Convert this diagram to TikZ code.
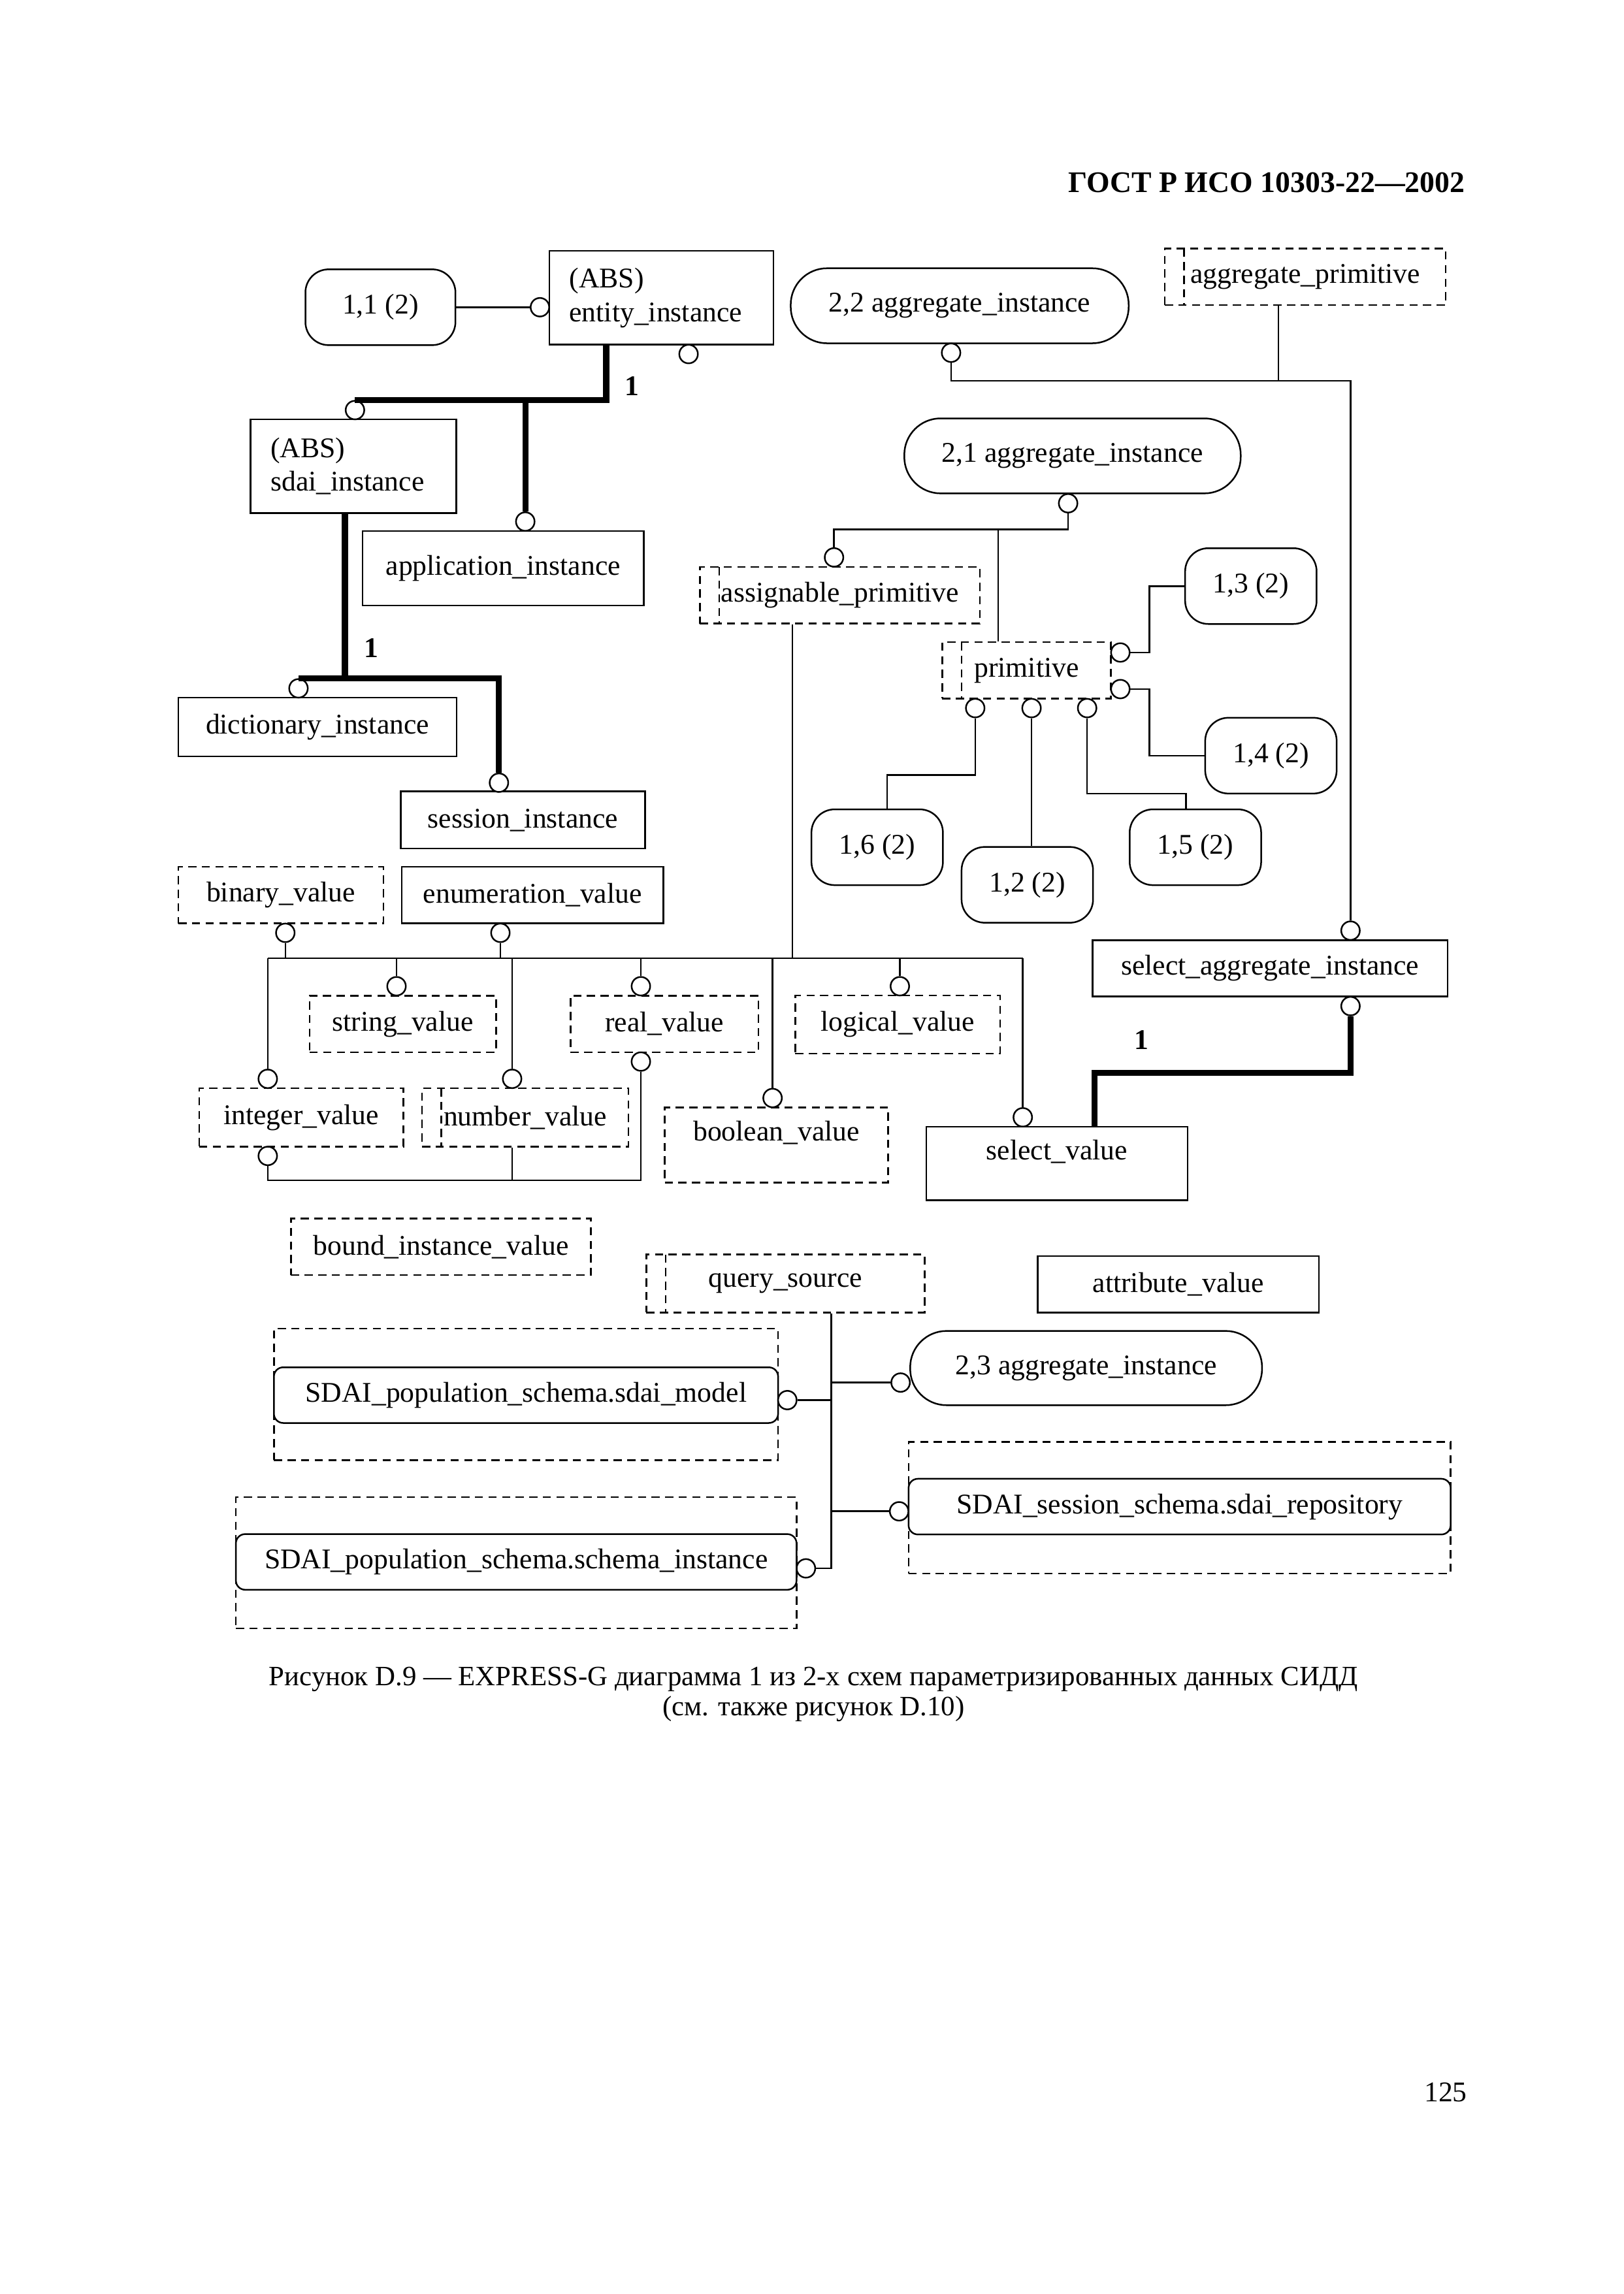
\documentclass[tikz,border=0pt]{standalone}
\usepackage{fontspec}
\setmainfont{Liberation Serif}
\usepackage{tikz}

\tikzset{
  entbox/.style={draw, line width=0.6pt, minimum height=0.73cm, inner sep=2pt},
  typebox/.style={entbox, dash pattern=on 3pt off 2pt},
  selbox/.style={typebox, path picture={\draw[line width=0.6pt, dash pattern=on 3pt off 2pt]
      ([xshift=0.25cm]path picture bounding box.north west) -- ([xshift=0.25cm]path picture bounding box.south west);}},
  absbox/.style={draw, line width=0.6pt, align=left, inner xsep=0.26cm},
  refbox/.style={draw, line width=0.6pt, rounded corners=0.3cm, minimum width=1.70cm, minimum height=0.98cm},
  aggbox/.style={draw, line width=0.6pt, rounded corners=0.47cm, minimum height=0.97cm},
  usebox/.style={draw, fill=white, line width=0.6pt, rounded corners=0.12cm, minimum height=0.72cm},
  usefrm/.style={draw, line width=0.6pt, dash pattern=on 3pt off 2pt, minimum height=1.70cm},
  ring/.style={circle, draw, fill=white, line width=0.6pt, inner sep=0pt, minimum size=0.24cm},
  rel/.style={line width=0.6pt},
  sub/.style={line width=2.2pt},
  card/.style={font=\bfseries}
}

\begin{document}
\fontsize{10.5}{12.4}\selectfont
\begin{tikzpicture}[x=0.018927cm, y=-0.018927cm]
    \useasboundingbox (0, 0) rectangle (1109.5, 1568);

    \node (hdr) at (1001.5, 125) [anchor=east, inner sep=0pt, font=\fontsize{11}{13}\selectfont\bfseries] {ГОСТ Р ИСО 10303-22—2002};

    \node (ref11) at (260, 210) [refbox, minimum width=1.94cm] {1,1 (2)};
    \node (entity) at (452, 203.5) [absbox, text width=2.38cm, minimum height=1.21cm] {(ABS)\\entity\_instance};
    \node (agg22) at (655.9, 209) [aggbox, minimum width=4.37cm] {2,2 aggregate\_instance};
    \node (aggprim) at (892, 189.2) [selbox, minimum width=3.63cm] {aggregate\_primitive};

    \node (sdai) at (241.5, 318.7) [absbox, text width=2.14cm, minimum height=1.21cm] {(ABS)\\sdai\_instance};
    \node (agg21) at (733, 311.6) [aggbox, minimum width=4.35cm] {2,1 aggregate\_instance};
    \node (appl) at (343.9, 388.4) [entbox, minimum width=3.64cm, minimum height=0.96cm] {application\_instance};
    \node (assign) at (574, 406.9) [selbox, minimum width=3.62cm] {assignable\_primitive};
    \node (prim) at (701.6, 458.2) [selbox, minimum width=2.18cm] {primitive};

    \node (ref13) at (854.9, 400.6) [refbox] {1,3 (2)};
    \node (ref14) at (868.6, 516.5) [refbox] {1,4 (2)};
    \node (ref16) at (599.5, 579.1) [refbox] {1,6 (2)};
    \node (ref12) at (702.1, 604.8) [refbox] {1,2 (2)};
    \node (ref15) at (817, 579.1) [refbox] {1,5 (2)};

    \node (dict) at (217, 497) [entbox, minimum width=3.60cm, minimum height=0.76cm] {dictionary\_instance};
    \node (sess) at (357.4, 560.5) [entbox, minimum width=3.16cm, minimum height=0.74cm] {session\_instance};

    \node (binary) at (192, 611.8) [typebox, minimum width=2.65cm] {binary\_value};
    \node (enum) at (364, 611.8) [entbox, minimum width=3.38cm] {enumeration\_value};
    \node (string) at (275.3, 699.9) [typebox, minimum width=2.41cm] {string\_value};
    \node (real) at (454.1, 699.9) [typebox, minimum width=2.43cm] {real\_value};
    \node (logical) at (613.5, 700.3) [typebox, minimum width=2.65cm, minimum height=0.75cm] {logical\_value};
    \node (integer) at (205.9, 763.8) [typebox, minimum width=2.64cm, minimum height=0.755cm] {integer\_value};
    \node (number) at (359, 763.8) [selbox, minimum width=2.67cm, minimum height=0.755cm] {number\_value};
    \node (boolean) at (530.7, 782.7) [typebox, minimum width=2.89cm, minimum height=0.97cm, text depth=0.36cm] {boolean\_value};
    \node (selagg) at (868, 661.9) [entbox, minimum width=4.59cm] {select\_aggregate\_instance};
    \node (selval) at (722.3, 795.3) [entbox, minimum width=3.38cm, minimum height=0.95cm, text depth=0.36cm] {select\_value};

    \node (bound) at (301.4, 852.2) [typebox, minimum width=3.88cm] {bound\_instance\_value};
    \node (query) at (536.8, 877.3) [selbox, minimum width=3.60cm, minimum height=0.75cm] {query\_source};
    \node (attr) at (805.3, 877.8) [entbox, minimum width=3.64cm] {attribute\_value};
    \node (agg23) at (742.3, 935.1) [aggbox, minimum width=4.55cm, minimum height=0.96cm] {2,3 aggregate\_instance};

    \node (modelf) at (359.5, 953.1) [usefrm, minimum width=6.52cm] {};
    \node (model) at (359.5, 953.6) [usebox, minimum width=6.52cm] {SDAI\_population\_schema.sdai\_model};
    \node (repof) at (806.2, 1030.5) [usefrm, minimum width=7.01cm] {};
    \node (repo) at (806.2, 1029.8) [usebox, minimum width=7.01cm] {SDAI\_session\_schema.sdai\_repository};
    \node (schinstf) at (352.8, 1068.2) [usefrm, minimum width=7.25cm] {};
    \node (schinst) at (352.8, 1067.6) [usebox, minimum width=7.25cm] {SDAI\_population\_schema.schema\_instance};

    \node (c1) at (369, 210) [ring] {};
    \node (c2) at (470.6, 242) [ring] {};
    \node (c3) at (242.6, 280.3) [ring] {};
    \node (c4) at (359, 356.5) [ring] {};
    \node (c5) at (204, 470.5) [ring] {};
    \node (c6) at (341, 535) [ring] {};
    \node (cbin) at (195, 637.6) [ring] {};
    \node (cenum) at (342, 637.6) [ring] {};
    \node (cint1) at (183, 737.4) [ring] {};
    \node (cint2) at (183, 790.1) [ring] {};
    \node (cstr) at (271, 674.1) [ring] {};
    \node (cnum) at (350, 737.4) [ring] {};
    \node (creal1) at (438, 674.1) [ring] {};
    \node (creal2) at (438, 725.6) [ring] {};
    \node (cbool) at (528, 750.5) [ring] {};
    \node (clog) at (615, 674.1) [ring] {};
    \node (csv) at (699, 763.7) [ring] {};
    \node (c22) at (650, 241.1) [ring] {};
    \node (csa1) at (923, 636.1) [ring] {};
    \node (csa2) at (923, 687.7) [ring] {};
    \node (c21) at (730, 344) [ring] {};
    \node (cas) at (570, 381) [ring] {};
    \node (cp1) at (765.7, 446) [ring] {};
    \node (cp2) at (765.7, 471) [ring] {};
    \node (cb1) at (666.5, 484) [ring] {};
    \node (cb2) at (705, 484) [ring] {};
    \node (cb3) at (743, 484) [ring] {};
    \node (c23) at (615.5, 945) [ring] {};
    \node (cm) at (538.1, 957) [ring] {};
    \node (cr) at (614.5, 1033) [ring] {};
    \node (cs) at (550.8, 1072) [ring] {};

    \coordinate (j1) at (414.3, 274);
    \coordinate (j2) at (235.7, 464);
    \coordinate (bus1) at (183, 655);
    \coordinate (bus2) at (699, 655);
    \coordinate (jas) at (541.6, 655);
    \coordinate (bus3) at (183, 806.8);
    \coordinate (j3) at (923, 260.2);
    \coordinate (j4) at (873.8, 260.2);
    \coordinate (j5) at (748, 733.5);
    \coordinate (j6) at (682.3, 361.9);
    \coordinate (jq) at (568.2, 1072);

    \draw[rel] (ref11.east) -- (c1.west);
    \draw[sub] (entity.south -| j1) |- (c3.north);
    \draw[sub] (c4.north) -- (c4.north |- c3.north);
    \draw[sub] (sdai.south -| j2) -- (j2);
    \draw[sub] (c5.north) -| (c6.north);

    \draw[rel] (bus1) -- (bus2);
    \draw[rel] (cbin.south) -- (cbin.south |- bus1);
    \draw[rel] (cenum.south) -- (cenum.south |- bus1);
    \draw[rel] (assign.south -| jas) -- (jas);
    \draw[rel] (bus1) -- (cint1.north);
    \draw[rel] (cstr.north) -- (cstr.north |- bus1);
    \draw[rel] (cnum.north) -- (cnum.north |- bus1);
    \draw[rel] (creal1.north) -- (creal1.north |- bus1);
    \draw[rel] (cbool.north) -- (cbool.north |- bus1);
    \draw[rel] (clog.north) -- (clog.north |- bus1);
    \draw[rel] (bus2) -- (csv.north);

    \draw[rel] (cint2.south) -- (bus3) -| (creal2.south);
    \draw[rel] (cnum |- number.south) -- (cnum |- bus3);

    \draw[rel] (c22.south) |- (j3) -- (csa1.north);
    \draw[rel] (aggprim.south -| j4) -- (j4);
    \draw[sub] (csa2.south) |- (j5) -- (j5 |- selval.north);

    \draw[rel] (c21.south) |- (j6) -| (cas.north);
    \draw[rel] (j6) -- (j6 |- prim.north);
    \draw[rel] (cp1.east) -- ++(13, 0) |- (ref13.west);
    \draw[rel] (cp2.east) -- ++(13, 0) |- (ref14.west);
    \draw[rel] (cb1.south) -- ++(0, 38.8) -| ([xshift=0.13cm]ref16.north);
    \draw[rel] (cb2.south) -- (cb2.south |- ref12.north);
    \draw[rel] (cb3.south) -- ++(0, 51.6) -| ([xshift=-0.12cm]ref15.north);

    \draw[rel] (query.south -| jq) -- (jq) -- (cs.east);
    \draw[rel] (c23.west) -- (c23.west -| jq);
    \draw[rel] (cm.east) -- (cm.east -| jq);
    \draw[rel] (cr.west) -- (cr.west -| jq);

    \node (n1) at (432, 264) [card] {1};
    \node (n2) at (254, 443) [card] {1};
    \node (n3) at (780, 711) [card] {1};

    \node (cap1) at (556, 1148) [font=\fontsize{10.3}{12}\selectfont] {Рисунок D.9 — EXPRESS-G диаграмма 1 из 2-х схем параметризированных данных СИДД};
    \node (cap2) at (556, 1168) [font=\fontsize{10.3}{12}\selectfont] {(см. также рисунок D.10)};
    \node (pg) at (1003, 1430) [anchor=east, inner sep=0pt] {125};
\end{tikzpicture}
\end{document}
